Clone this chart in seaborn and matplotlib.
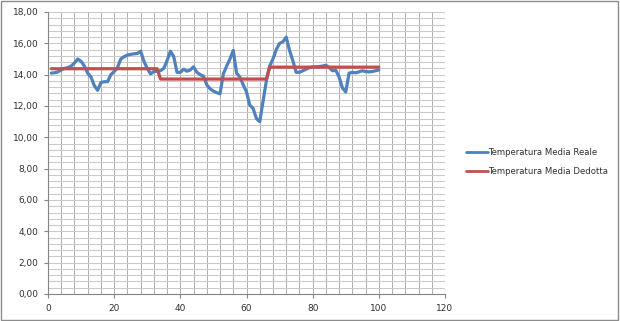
import matplotlib
matplotlib.use("Agg")
import matplotlib.pyplot as plt
import matplotlib.patches as mpatches
from matplotlib.lines import Line2D
from matplotlib.ticker import MultipleLocator, FuncFormatter
import numpy as np
import pandas as pd
import seaborn as sns

x_vals = list(range(1, 101))
reale = [14.10, 14.12, 14.18, 14.30, 14.40, 14.45, 14.55, 14.75, 15.00, 14.85,
         14.55, 14.10, 13.85, 13.30, 13.00, 13.50, 13.55, 13.55, 14.00, 14.20,
         14.45, 15.00, 15.15, 15.25, 15.30, 15.33, 15.35, 15.50, 14.85, 14.40,
         14.05, 14.20, 14.22, 14.25, 14.40, 14.90, 15.50, 15.15, 14.15, 14.15,
         14.35, 14.22, 14.30, 14.50, 14.15, 14.00, 13.90, 13.35, 13.10, 12.95,
         12.85, 12.78, 14.05, 14.55, 15.00, 15.55, 14.10, 13.85, 13.35, 12.90,
         12.05, 11.85, 11.20, 11.00, 12.30, 13.60, 14.55, 15.00, 15.60, 16.00,
         16.10, 16.40, 15.55, 14.90, 14.15, 14.15, 14.25, 14.35, 14.45, 14.50,
         14.50, 14.52, 14.55, 14.60, 14.45, 14.25, 14.28, 13.85, 13.15, 12.90,
         14.10, 14.15, 14.12, 14.18, 14.25, 14.20, 14.18, 14.20, 14.25, 14.30]
dedotta = [14.38, 14.38, 14.38, 14.38, 14.38, 14.38, 14.38, 14.38, 14.38, 14.38,
           14.38, 14.38, 14.38, 14.38, 14.38, 14.38, 14.38, 14.38, 14.38, 14.38,
           14.38, 14.38, 14.38, 14.38, 14.38, 14.38, 14.38, 14.38, 14.38, 14.38,
           14.38, 14.38, 14.38, 13.72, 13.72, 13.72, 13.72, 13.72, 13.72, 13.72,
           13.72, 13.72, 13.72, 13.72, 13.72, 13.72, 13.72, 13.72, 13.72, 13.72,
           13.72, 13.72, 13.72, 13.72, 13.72, 13.72, 13.72, 13.72, 13.72, 13.72,
           13.72, 13.72, 13.72, 13.72, 13.72, 13.72, 14.48, 14.48, 14.48, 14.48,
           14.48, 14.48, 14.48, 14.48, 14.48, 14.48, 14.48, 14.48, 14.48, 14.48,
           14.48, 14.48, 14.48, 14.48, 14.48, 14.48, 14.48, 14.48, 14.48, 14.48,
           14.48, 14.48, 14.48, 14.48, 14.48, 14.48, 14.48, 14.48, 14.48, 14.48]
series_names = ["Temperatura Media Reale", "Temperatura Media Dedotta"]
colors = ["#4F81BD", "#C0504D"]

df = pd.DataFrame({"x": x_vals * 2,
                   "y": reale + dedotta,
                   "serie": [series_names[0]] * len(reale) + [series_names[1]] * len(dedotta)})

sns.set_theme(style="white")
plt.rcParams["font.family"] = ["DejaVu Sans"]

fig = plt.figure(figsize=(6.2, 3.21), dpi=100)
fig.patch.set_facecolor("white")
ax = fig.add_axes([48/620, 1-294/321, (445-48)/620, (294-12)/321])

sns.lineplot(data=df, x="x", y="y", hue="serie", palette=colors,
             linewidth=2.3, ax=ax, legend=False)

ax.set_xlim(0, 120)
ax.set_ylim(0, 18)
ax.xaxis.set_major_locator(MultipleLocator(20))
ax.xaxis.set_minor_locator(MultipleLocator(4))
ax.yaxis.set_major_locator(MultipleLocator(2))
ax.yaxis.set_minor_locator(MultipleLocator(0.4))
ax.yaxis.set_major_formatter(FuncFormatter(lambda v, p: f"{v:.2f}".replace(".", ",")))
ax.grid(which="both", axis="x", color="#b0b0b0", linewidth=0.75)
ax.grid(which="both", axis="y", color="#cacaca", linewidth=0.75)
ax.set_axisbelow(True)
ax.set_xlabel("")
ax.set_ylabel("")
for s in ["top", "right"]:
    ax.spines[s].set_visible(False)
for s in ["left", "bottom"]:
    ax.spines[s].set_color("#868686")
    ax.spines[s].set_linewidth(0.8)
ax.tick_params(which="major", direction="out", length=3, width=0.8, color="#868686",
               labelsize=6.5, labelcolor="#303030", pad=4)
ax.tick_params(which="minor", length=0)
ax.tick_params(axis="both", which="major", left=True, bottom=True)

handles = [Line2D([], [], color=c, linewidth=2.0) for c in colors]
fig.legend(handles, series_names, loc="center left", bbox_to_anchor=(458/620, 1-162/321),
           frameon=False, fontsize=6.1, handlelength=2.6, handletextpad=0.1,
           labelspacing=1.25, labelcolor="#303030")

fig.patches.append(mpatches.Rectangle((0.002, 0.004), 0.995, 0.992, transform=fig.transFigure,
                                      fill=False, edgecolor="#8c8c8c", linewidth=1.0))

fig.savefig("out.png", dpi=100)
